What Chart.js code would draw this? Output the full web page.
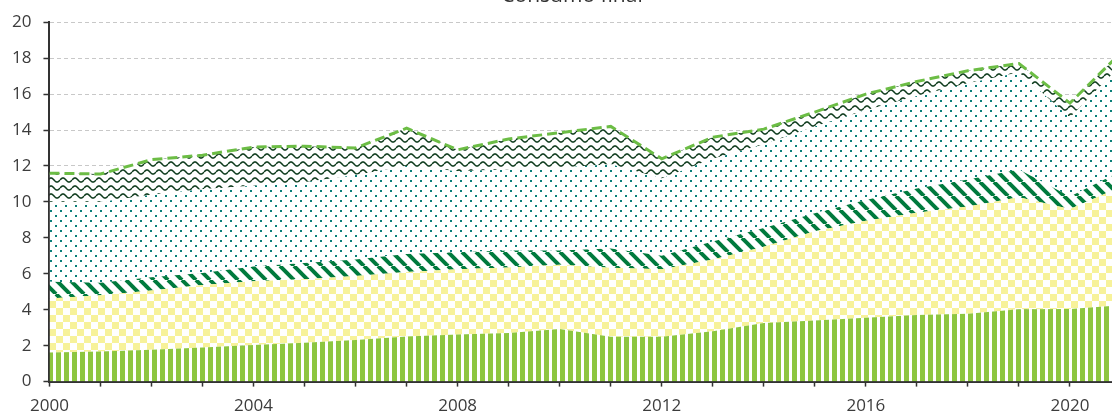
<!DOCTYPE html>
<html lang="es">
<head>
    <meta charset="UTF-8">
    <title>Consumo final</title>
    <script src="https://cdnjs.cloudflare.com/ajax/libs/Chart.js/4.4.1/chart.umd.min.js"></script>
    <style>
        html, body {
            margin: 0;
            padding: 0;
            background: #fff;
            overflow: hidden;
        }
        .frame {
            position: relative;
            width: 1112px;
            height: 416px;
            overflow: hidden;
        }
        .titulo {
            position: absolute;
            left: 0;
            top: -18px;
            width: 1144px;
            text-align: center;
            font-family: 'Open Sans', sans-serif;
            font-size: 21px;
            line-height: 24px;
            color: #333;
        }
        .chart-box {
            position: absolute;
            left: 0;
            top: 0;
            width: 1144px;
            height: 425px;
        }
    </style>
</head>
<body>
    <div class="frame">
        <div class="chart-box">
            <canvas id="consumo"></canvas>
        </div>
        <div class="titulo">Consumo final</div>
    </div>

    <script>
        // valores (anuales, 2000-2021)
        const years = [2000, 2001, 2002, 2003, 2004, 2005, 2006, 2007, 2008, 2009, 2010,
                       2011, 2012, 2013, 2014, 2015, 2016, 2017, 2018, 2019, 2020, 2021];

        const capa1 = [1.62, 1.68, 1.77, 1.90, 2.03, 2.16, 2.31, 2.51, 2.62, 2.71, 2.93,
                       2.49, 2.49, 2.80, 3.26, 3.40, 3.56, 3.70, 3.78, 4.02, 4.04, 4.25];
        const capa2 = [3.01, 3.13, 3.30, 3.47, 3.56, 3.54, 3.57, 3.59, 3.63, 3.64, 3.57,
                       3.84, 3.76, 4.00, 4.24, 4.96, 5.39, 5.70, 5.96, 6.24, 5.57, 6.60];
        const capa3 = [0.92, 0.69, 0.73, 0.68, 0.81, 0.90, 0.92, 1.00, 0.95, 0.95, 0.80,
                       1.07, 0.75, 1.00, 1.05, 1.01, 1.15, 1.35, 1.51, 1.54, 0.69, 0.85];
        const capa4 = [4.45, 4.50, 4.60, 4.65, 4.50, 4.50, 4.70, 4.90, 4.50, 4.50, 4.60,
                       4.70, 4.30, 4.60, 4.65, 4.83, 5.00, 5.15, 5.35, 5.40, 4.40, 5.90];
        const capa5 = [1.60, 1.55, 1.95, 1.90, 2.15, 2.00, 1.50, 2.10, 1.20, 1.70, 1.95,
                       2.10, 1.10, 1.20, 0.85, 0.80, 0.90, 0.80, 0.70, 0.50, 0.80, 0.70];
        const total = [11.60, 11.55, 12.35, 12.60, 13.05, 13.10, 13.00, 14.10, 12.90, 13.50, 13.85,
                       14.20, 12.40, 13.60, 14.05, 15.00, 16.00, 16.70, 17.30, 17.70, 15.50, 18.30];

        const yTicks = [0, 2, 4, 6, 8, 10, 12, 14, 16, 18, 20];
        const xLabelYears = [2000, 2004, 2008, 2012, 2016, 2020];

        const canvas = document.getElementById('consumo');
        const ctx = canvas.getContext('2d');

        // tramas de relleno
        function tile(w, h, draw) {
            const c = document.createElement('canvas');
            c.width = w;
            c.height = h;
            const g = c.getContext('2d');
            g.fillStyle = '#ffffff';
            g.fillRect(0, 0, w, h);
            draw(g);
            return ctx.createPattern(c, 'repeat');
        }

        const rayasVerticales = tile(8, 8, g => {
            g.fillStyle = '#8dc63f';
            g.fillRect(0, 0, 5, 8);
        });

        const ajedrez = tile(14, 14, g => {
            g.fillStyle = '#f7f29a';
            g.fillRect(0, 0, 7, 7);
            g.fillRect(7, 7, 7, 7);
        });

        const diagonales = tile(14, 14, g => {
            g.strokeStyle = '#007a3d';
            g.lineWidth = 4;
            for (let x = -14; x <= 14; x += 14) {
                g.beginPath();
                g.moveTo(x, 0);
                g.lineTo(x + 14, 14);
                g.stroke();
            }
        });

        const puntos = tile(10, 10, g => {
            g.fillStyle = '#0b7f79';
            g.fillRect(0, 0, 2, 2);
            g.fillRect(5, 5, 2, 2);
        });

        const ondas = tile(12, 8, g => {
            g.strokeStyle = '#0d3a1c';
            g.lineWidth = 1.6;
            g.beginPath();
            for (let x = 0; x <= 12; x += 0.5) {
                const y = 4 - 2 * Math.sin(2 * Math.PI * x / 12);
                if (x === 0) g.moveTo(x, y); else g.lineTo(x, y);
            }
            g.stroke();
        });

        const pts = arr => years.map((yr, i) => ({ x: yr, y: arr[i] }));

        function area(label, arr, pattern, fill) {
            return {
                label: label,
                data: pts(arr),
                backgroundColor: pattern,
                borderWidth: 0,
                pointRadius: 0,
                tension: 0,
                fill: fill,
                stack: 'capas',
                order: 1
            };
        }

        const chart = new Chart(ctx, {
            type: 'line',
            data: {
                datasets: [
                    area('Capa 1', capa1, rayasVerticales, 'origin'),
                    area('Capa 2', capa2, ajedrez, '-1'),
                    area('Capa 3', capa3, diagonales, '-1'),
                    area('Capa 4', capa4, puntos, '-1'),
                    area('Capa 5', capa5, ondas, '-1'),
                    {
                        label: 'Total',
                        data: pts(total),
                        borderColor: '#6cbd45',
                        borderWidth: 3,
                        borderDash: [10, 5],
                        pointRadius: 0,
                        tension: 0,
                        fill: false,
                        stack: 'total',
                        order: 0
                    }
                ]
            },
            options: {
                responsive: true,
                maintainAspectRatio: false,
                animation: false,
                layout: {
                    padding: { left: 0, right: 23, top: 17, bottom: 0 }
                },
                plugins: {
                    legend: { display: false },
                    tooltip: { enabled: false },
                    title: { display: false }
                },
                scales: {
                    x: {
                        type: 'linear',
                        min: 2000,
                        max: 2021,
                        grid: {
                            drawOnChartArea: false,
                            tickLength: 5,
                            tickColor: '#333333',
                            tickWidth: 1.5
                        },
                        border: { color: '#333333', width: 2 },
                        ticks: {
                            stepSize: 1,
                            autoSkip: false,
                            maxRotation: 0,
                            padding: 9,
                            color: '#3c3c3c',
                            font: { family: 'Open Sans', size: 17 },
                            callback: v => xLabelYears.includes(v) ? String(v) : ''
                        }
                    },
                    y: {
                        stacked: true,
                        min: 0,
                        max: 20,
                        afterBuildTicks: axis => {
                            axis.ticks = yTicks.map(v => ({ value: v }));
                        },
                        grid: {
                            color: '#c8c8c8',
                            lineWidth: 1,
                            tickLength: 6,
                            tickColor: '#333333',
                            tickWidth: 1.5,
                            tickBorderDash: []
                        },
                        border: { color: '#333333', width: 2, dash: [4, 3] },
                        ticks: {
                            padding: 12,
                            color: '#3c3c3c',
                            font: { family: 'Open Sans', size: 17 }
                        }
                    }
                }
            }
        });
    </script>
</body>
</html>
